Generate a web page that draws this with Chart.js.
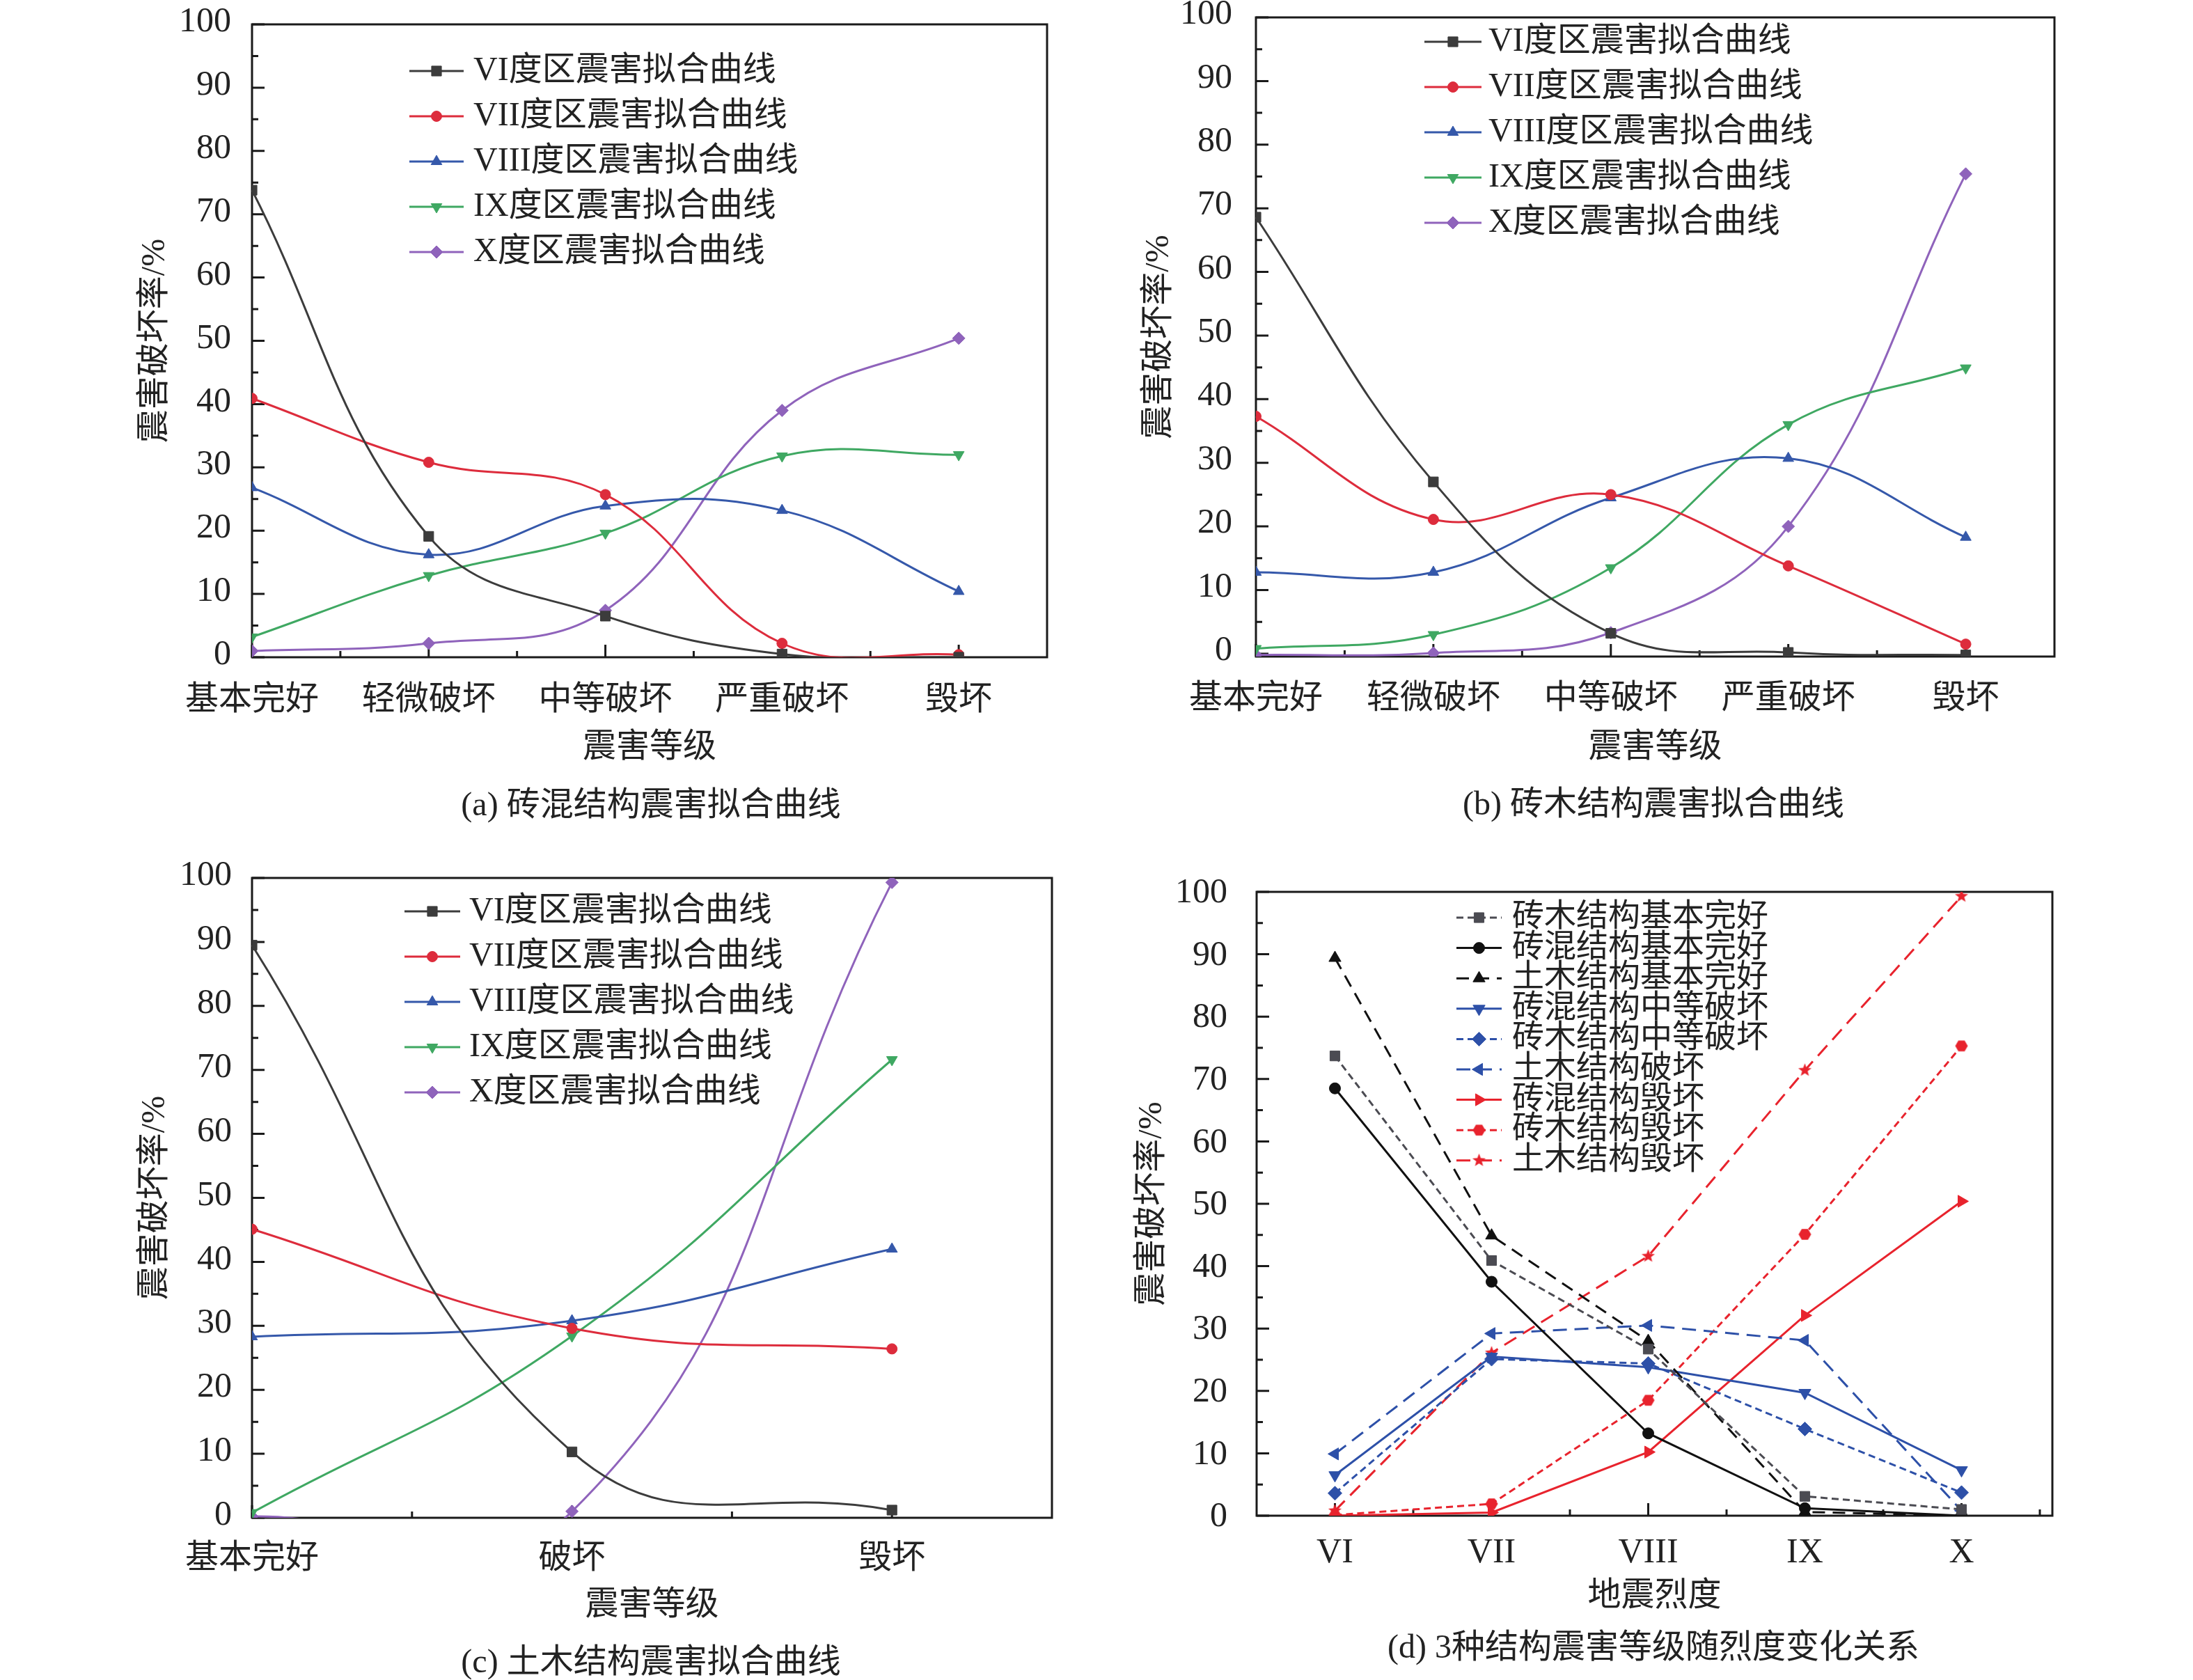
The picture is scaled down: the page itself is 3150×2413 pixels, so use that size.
<!DOCTYPE html>
<html><head><meta charset="utf-8">
<script src="https://cdn.jsdelivr.net/npm/chart.js@4/dist/chart.umd.min.js"></script>
<style>
html,body{margin:0;padding:0;background:#fff;width:3150px;height:2413px;overflow:hidden;position:relative}
canvas{position:absolute}
.cap{position:absolute;font-size:48px;line-height:48px;font-family:"Liberation Serif","Noto Sans CJK SC",serif;color:#222;white-space:nowrap;transform:translate(-50%,-50%)}
</style></head><body>
<canvas id="ca"></canvas><canvas id="cb"></canvas><canvas id="cc"></canvas><canvas id="cd"></canvas>
<div class="cap" style="left:935px;top:1155px">(a) 砖混结构震害拟合曲线</div>
<div class="cap" style="left:2375px;top:1154px">(b) 砖木结构震害拟合曲线</div>
<div class="cap" style="left:935px;top:2386px">(c) 土木结构震害拟合曲线</div>
<div class="cap" style="left:2375px;top:2365px">(d) 3种结构震害等级随烈度变化关系</div>
<script>
// ---------- data ----------
const catsAB = ['基本完好','轻微破坏','中等破坏','严重破坏','毁坏'];
const catsC = ['基本完好','破坏','毁坏'];
const catsD = ['VI','VII','VIII','IX','X'];
const yTicks = [0,10,20,30,40,50,60,70,80,90,100];
const seriesNamesABC = ['VI度区震害拟合曲线','VII度区震害拟合曲线','VIII度区震害拟合曲线','IX度区震害拟合曲线','X度区震害拟合曲线'];

// (a) 砖混结构
const a_VI   = [73.8, 19.1, 6.5, 0.5, 0.0];
const a_VII  = [40.9, 30.8, 25.7, 2.2, 0.4];
const a_VIII = [26.8, 16.2, 23.9, 23.2, 10.4];
const a_IX   = [3.2, 12.9, 19.6, 31.8, 32.0];
const a_X    = [1.0, 2.2, 7.4, 39.0, 50.4];
// (b) 砖木结构
const b_VI   = [68.6, 27.0, 3.2, 0.2, -0.2];
const b_VII  = [37.3, 21.1, 25.0, 13.8, 1.5];
const b_VIII = [12.8, 12.8, 24.5, 30.7, 18.3];
const b_IX   = [0.8, 3.0, 13.5, 36.0, 44.9];
const b_X    = [-0.2, 0.1, 3.3, 20.0, 75.4];
// (c) 土木结构
const c_VI   = [89.5, 10.3, 1.2];
const c_VII  = [45.1, 29.6, 26.4];
const c_VIII = [28.3, 30.8, 42.0];
const c_IX   = [0.8, 28.4, 71.6];
const c_X    = [0.2, 1.0, 99.3];
// (d) 3种结构震害等级随烈度变化
const d_zm_good   = [73.7, 40.9, 26.7, 3.1, 1.0];   // 砖木结构基本完好
const d_zh_good   = [68.5, 37.5, 13.2, 1.2, 0.0];   // 砖混结构基本完好
const d_tm_good   = [89.4, 44.9, 28.0, 0.6, 0.0];   // 土木结构基本完好
const d_zh_mid    = [6.5, 25.5, 23.8, 19.7, 7.3];   // 砖混结构中等破坏
const d_zm_mid    = [3.6, 25.1, 24.4, 13.9, 3.7];   // 砖木结构中等破坏
const d_tm_dmg    = [9.9, 29.2, 30.5, 28.1, 0.8];   // 土木结构破坏
const d_zh_ruin   = [0.0, 0.5, 10.2, 32.1, 50.4];   // 砖混结构毁坏
const d_zm_ruin   = [0.1, 1.9, 18.5, 45.1, 75.3];   // 砖木结构毁坏
const d_tm_ruin   = [0.8, 26.1, 41.6, 71.4, 99.3];  // 土木结构毁坏

// ---------- styles ----------
const FONT = '"Liberation Serif", "Noto Sans CJK SC", serif';
const TXT = '#222';
const C_VI = '#3c3c3c', C_VII = '#dd2c3c', C_VIII = '#3558aa', C_IX = '#3fa862', C_X = '#8f63bb';
const D_GRAY = '#4b4b52', D_BLACK = '#111111', D_BLUE = '#2d50a8', D_RED = '#e8232d';

function makeStar(color, R) {
  const c = document.createElement('canvas'); const s = Math.ceil(R*2+2); c.width = s; c.height = s;
  const g = c.getContext('2d'); g.fillStyle = color; g.beginPath();
  for (let i = 0; i < 10; i++) { const rr = i % 2 ? R*0.42 : R; const a = -Math.PI/2 + i*Math.PI/5;
    g.lineTo(s/2 + rr*Math.cos(a), s/2 + rr*Math.sin(a)); }
  g.closePath(); g.fill(); return c;
}
function makeHex(color, R) {
  const c = document.createElement('canvas'); const s = Math.ceil(R*2+2); c.width = s; c.height = s;
  const g = c.getContext('2d'); g.fillStyle = color; g.beginPath();
  for (let i = 0; i < 6; i++) { const a = i*Math.PI/3; g.lineTo(s/2 + R*Math.cos(a), s/2 + R*Math.sin(a)); }
  g.closePath(); g.fill(); return c;
}

function abcSeries(d) {
  return [
    {label: seriesNamesABC[0], data: d[0], color: C_VI, style: 'rect', r: 10},
    {label: seriesNamesABC[1], data: d[1], color: C_VII, style: 'circle', r: 7.5},
    {label: seriesNamesABC[2], data: d[2], color: C_VIII, style: 'triangle', r: 9},
    {label: seriesNamesABC[3], data: d[3], color: C_IX, style: 'triangle', rot: 180, r: 9},
    {label: seriesNamesABC[4], data: d[4], color: C_X, style: 'rectRot', r: 9}
  ];
}

const panels = [
  {id: 'ca', cx: 0, cy: 0, W: 1575, H: 1206, L: 362, R: 1504, T: 35, B: 944,
   xmin: 1, xmax: 5.5, ymin: 0, ymax: 100, cats: catsAB, xFont: 48,
   xLabelCY: 998, xTitleCY: 1074, yTitleCX: 223, yGap: 22, yOff: -3,
   xTitle: '震害等级', tension: 0.4, lw: 3,
   series: abcSeries([a_VI, a_VII, a_VIII, a_IX, a_X]),
   legend: {x1: 588, x2: 666, tx: 680, y0: 102, dy: 65, size: 48}},
  {id: 'cb', cx: 1575, cy: 0, W: 1575, H: 1206, L: 1804, R: 2951, T: 25, B: 943,
   xmin: 1, xmax: 5.5, ymin: -0.45, ymax: 100, cats: catsAB, xFont: 48,
   xLabelCY: 996, xTitleCY: 1074, yTitleCX: 1665, yGap: 26, yOff: -4,
   xTitle: '震害等级', tension: 0.4, lw: 3,
   series: abcSeries([b_VI, b_VII, b_VIII, b_IX, b_X]),
   legend: {x1: 2046, x2: 2128, tx: 2138, y0: 60, dy: 65, size: 48}},
  {id: 'cc', cx: 0, cy: 1206, W: 1575, H: 1207, L: 362, R: 1511, T: 1261, B: 2180,
   xmin: 1, xmax: 3.5, ymin: 0, ymax: 100, cats: catsC, xFont: 48,
   xLabelCY: 2231, xTitleCY: 2306, yTitleCX: 223, yGap: 21, yOff: -3,
   xTitle: '震害等级', tension: 0.45, lw: 3,
   series: abcSeries([c_VI, c_VII, c_VIII, c_IX, c_X]),
   legend: {x1: 581, x2: 661, tx: 674, y0: 1309, dy: 65, size: 48}},
  {id: 'cd', cx: 1575, cy: 1206, W: 1575, H: 1207, L: 1805, R: 2948, T: 1281, B: 2177,
   xmin: 0.5, xmax: 5.58, ymin: 0, ymax: 100, cats: catsD, xFont: 50,
   xLabelCY: 2223, xTitleCY: 2293, yTitleCX: 1655, yGap: 34, yOff: 2,
   xTitle: '地震烈度', tension: 0, lw: 3, straight: true,
   series: [
     {label: '砖木结构基本完好', data: d_zm_good, color: D_GRAY, style: 'rect', r: 10, dash: [10, 6]},
     {label: '砖混结构基本完好', data: d_zh_good, color: D_BLACK, style: 'circle', r: 8},
     {label: '土木结构基本完好', data: d_tm_good, color: D_BLACK, style: 'triangle', r: 10, dash: [18, 11]},
     {label: '砖混结构中等破坏', data: d_zh_mid, color: D_BLUE, style: 'triangle', rot: 180, r: 10},
     {label: '砖木结构中等破坏', data: d_zm_mid, color: D_BLUE, style: 'rectRot', r: 10, dash: [10, 6]},
     {label: '土木结构破坏', data: d_tm_dmg, color: D_BLUE, style: 'triangle', rot: 270, r: 10, dash: [20, 11]},
     {label: '砖混结构毁坏', data: d_zh_ruin, color: D_RED, style: 'triangle', rot: 90, r: 10},
     {label: '砖木结构毁坏', data: d_zm_ruin, color: D_RED, style: makeHex(D_RED, 9), r: 9, dash: [10, 6]},
     {label: '土木结构毁坏', data: d_tm_ruin, color: D_RED, style: makeStar(D_RED, 10), r: 10, dash: [20, 11]}
   ],
   legend: {x1: 2092, x2: 2157, tx: 2172, y0: 1318, dy: 43.6, size: 46}}
];

function mark(ctx, s, x, y) {
  ctx.save();
  ctx.fillStyle = s.color; ctx.strokeStyle = s.color; ctx.lineWidth = 1; ctx.setLineDash([]);
  Chart.helpers.drawPoint(ctx, {pointStyle: s.style, rotation: s.rot || 0, radius: s.r, borderWidth: 1}, x, y);
  ctx.restore();
}

function build(p) {
  const cv = document.getElementById(p.id);
  cv.width = p.W; cv.height = p.H;
  cv.style.left = p.cx + 'px'; cv.style.top = p.cy + 'px';
  cv.style.width = p.W + 'px'; cv.style.height = p.H + 'px';
  const datasets = [];
  p.series.forEach(s => {
    const pts = s.data.map((v, i) => ({x: i + 1, y: v}));
    const line = {data: pts, borderColor: s.color, backgroundColor: s.color, borderWidth: p.lw,
      borderDash: s.dash || [], tension: p.tension, pointRadius: 0, pointHoverRadius: 0,
      fill: false, order: 1};
    if (!p.straight) line.clip = {left: 12, top: 12, right: 12, bottom: 0};
    datasets.push(line);
    datasets.push({data: pts, showLine: false, pointStyle: s.style, pointRotation: s.rot || 0,
      pointRadius: s.r, pointHoverRadius: s.r, pointBackgroundColor: s.color, pointBorderColor: s.color,
      pointBorderWidth: 1, order: 0});
  });
  const decor = {
    id: 'decor' + p.id,
    beforeDatasetsDraw(chart) {
      const {ctx, chartArea: a, scales: {x, y}} = chart;
      ctx.save();
      ctx.strokeStyle = '#1a1a1a'; ctx.lineWidth = 3; ctx.lineCap = 'butt';
      ctx.beginPath();
      yTicks.forEach(v => {
        const py = y.getPixelForValue(v);
        ctx.moveTo(a.left, py); ctx.lineTo(a.left + 18, py);
        if (v < 100) { const pm = y.getPixelForValue(v + 5); ctx.moveTo(a.left, pm); ctx.lineTo(a.left + 9, pm); }
      });
      p.cats.forEach((c, i) => {
        const px = x.getPixelForValue(i + 1);
        ctx.moveTo(px, a.bottom); ctx.lineTo(px, a.bottom - 18);
        const mv = i + 1.5;
        if (mv < p.xmax) { const pm = x.getPixelForValue(mv); ctx.moveTo(pm, a.bottom); ctx.lineTo(pm, a.bottom - 9); }
      });
      ctx.stroke();
      ctx.strokeRect(a.left, a.top, a.right - a.left, a.bottom - a.top);
      ctx.restore();
    },
    afterDatasetsDraw(chart) {
      const ctx = chart.ctx; const lg = p.legend;
      ctx.save();
      p.series.forEach((s, k) => {
        const yy = lg.y0 + k * lg.dy - p.cy;
        ctx.strokeStyle = s.color; ctx.lineWidth = p.lw; ctx.setLineDash(s.dash || []);
        ctx.beginPath(); ctx.moveTo(lg.x1 - p.cx, yy); ctx.lineTo(lg.x2 - p.cx, yy); ctx.stroke();
        mark(ctx, s, (lg.x1 + lg.x2) / 2 - p.cx, yy);
        ctx.setLineDash([]);
        ctx.fillStyle = TXT; ctx.font = lg.size + 'px ' + FONT;
        ctx.textBaseline = 'middle'; ctx.textAlign = 'left';
        ctx.fillText(s.label, lg.tx - p.cx, yy);
      });
      ctx.restore();
    }
  };
  const ch = new Chart(cv, {
    type: 'line',
    data: {datasets},
    plugins: [decor],
    options: {
      responsive: false, animation: false, devicePixelRatio: 1,
      events: [],
      layout: {padding: {left: 0, top: p.T - p.cy, right: p.cx + p.W - p.R, bottom: 0}},
      elements: {line: {capBezierPoints: false}},
      plugins: {legend: {display: false}, tooltip: {enabled: false}},
      scales: {
        x: {
          type: 'linear', position: 'bottom', min: p.xmin, max: p.xmax,
          afterBuildTicks: s => { s.ticks = p.cats.map((c, i) => ({value: i + 1})); },
          afterFit: s => { s.height = p.cy + p.H - p.B; s.paddingLeft = 0; s.paddingRight = 0; },
          grid: {display: false}, border: {display: false},
          ticks: {autoSkip: false, maxRotation: 0, minRotation: 0, color: TXT,
            padding: p.xLabelCY - p.B - p.xFont / 2,
            font: {family: FONT, size: p.xFont, lineHeight: 1},
            callback: v => p.cats[Math.round(v) - 1] || ''},
          title: {display: true, text: p.xTitle, color: TXT,
            font: {family: FONT, size: 48, lineHeight: 1},
            padding: {top: 0, bottom: p.cy + p.H - p.xTitleCY - 24}}
        },
        y: {
          type: 'linear', position: 'left', min: p.ymin, max: p.ymax,
          afterBuildTicks: s => { s.ticks = yTicks.map(v => ({value: v})); },
          afterFit: s => { s.width = p.L - p.cx; s.paddingTop = 0; s.paddingBottom = 0; },
          grid: {display: false}, border: {display: false},
          ticks: {color: TXT, padding: p.yGap, labelOffset: p.yOff,
            font: {family: FONT, size: 50, lineHeight: 1},
            callback: v => String(v)},
          title: {display: true, text: '震害破坏率/%', color: TXT,
            font: {family: FONT, size: 48, lineHeight: 1},
            padding: {top: p.yTitleCX - p.cx - 24, bottom: 0}}
        }
      }
    }
  });
  // nudge layout padding so that the plot frame lands where the figure has it
  for (let k = 0; k < 3; k++) {
    const a = ch.chartArea; const pad = ch.options.layout.padding;
    const dTop = (p.T - p.cy) - a.top, dRight = a.right - (p.R - p.cx);
    if (Math.abs(dTop) < 0.5 && Math.abs(dRight) < 0.5) break;
    pad.top += dTop; pad.right += dRight;
    ch.update();
  }
}
panels.forEach(build);
</script>
</body></html>
